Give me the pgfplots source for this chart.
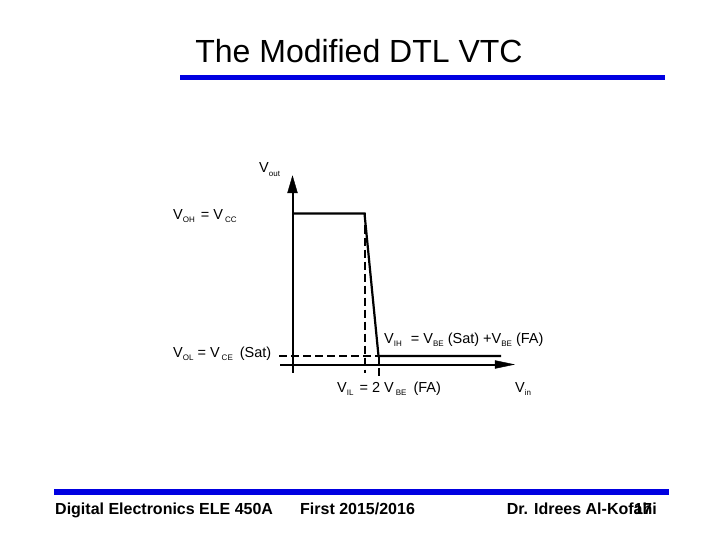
\documentclass[border=0pt]{standalone}
\usepackage{pgfplots}
\pgfplotsset{compat=1.18}
\usepackage{fontspec}
\setmainfont{Liberation Sans}
\definecolor{slideblue}{RGB}{0,0,225}
\newcommand\sub[1]{\raisebox{-0.5ex}{\fontsize{8}{9}\selectfont #1}}
\newcommand\lab{\fontsize{14.5}{17}\selectfont}
\begin{document}
\begin{tikzpicture}
\begin{axis}[width=720pt,height=540pt,scale only axis,
  xmin=0,xmax=720,ymin=0,ymax=540,y dir=reverse,hide axis,clip=false]
\path[use as bounding box] (rel axis cs:0,0) rectangle (rel axis cs:1,1);
% blue rules
\addplot[slideblue,line width=5.5pt] coordinates {(180,77.5)(665,77.5)};
\addplot[slideblue,line width=6pt] coordinates {(54,492)(669,492)};
% axes
\addplot[black,line width=2pt] coordinates {(292.5,190)(292.5,373)};
\addplot[black,fill=black] coordinates {(287.5,193)(292.5,176)(297.5,193)} -- cycle;
\addplot[black,line width=2pt] coordinates {(280,364.5)(497,364.5)};
\addplot[black,fill=black] coordinates {(495,360.5)(514,364.5)(495,368.5)} -- cycle;
% VTC
\addplot[black,line width=2.2pt,line join=miter] coordinates {(292.5,213.5)(364.5,213.5)(378.5,356)(501,356)};
% dashed guides
\addplot[black,line width=2pt,dash pattern=on 8pt off 4pt] coordinates {(364.5,213.5)(364.5,373)};
\addplot[black,line width=2pt,dash pattern=on 8pt off 4pt] coordinates {(378.5,356)(378.5,377)};
\addplot[black,line width=1.2pt,dash pattern=on 8pt off 4pt] coordinates {(279,356)(378.5,356)};
% labels
\node[anchor=base west,inner sep=0pt] at (axis cs:259,173) {\lab V\sub{out}};
\node[anchor=base west,inner sep=0pt] at (axis cs:173,219) {\lab V\sub{OH}\hspace{6pt}= V\hspace{2pt}\sub{CC}};
\node[anchor=base west,inner sep=0pt] at (axis cs:173,357) {\lab V\sub{OL} = V\hspace{2pt}\sub{CE}\hspace{3pt} (Sat)};
\node[anchor=base west,inner sep=0pt] at (axis cs:384,343) {\lab V\sub{IH}\hspace{5pt} = V\sub{BE} (Sat) +V\sub{BE} (FA)};
\node[anchor=base west,inner sep=0pt] at (axis cs:337,392) {\lab V\sub{IL}\hspace{6pt}= 2 V\hspace{2pt}\sub{BE}\hspace{3pt} (FA)};
\node[anchor=base west,inner sep=0pt] at (axis cs:515,392) {\lab V\sub{in}};
% title and footer
\node[anchor=center,inner sep=0pt] at (axis cs:359,51) {\fontsize{32}{36}\selectfont The Modified DTL VTC};
\node[anchor=base west,inner sep=0pt] at (axis cs:55,514) {\fontsize{16}{18}\selectfont\bfseries Digital Electronics ELE 450A};
\node[anchor=base west,inner sep=0pt] at (axis cs:300,514) {\fontsize{16}{18}\selectfont\bfseries First 2015/2016};
\node[anchor=base east,inner sep=0pt] at (axis cs:657,514) {\fontsize{16}{18}\selectfont\bfseries Dr. Idrees Al-Kofahi};
\node[anchor=base west,inner sep=0pt] at (axis cs:634,514) {\fontsize{16}{18}\selectfont\bfseries 17};
\end{axis}
\end{tikzpicture}
\end{document}
